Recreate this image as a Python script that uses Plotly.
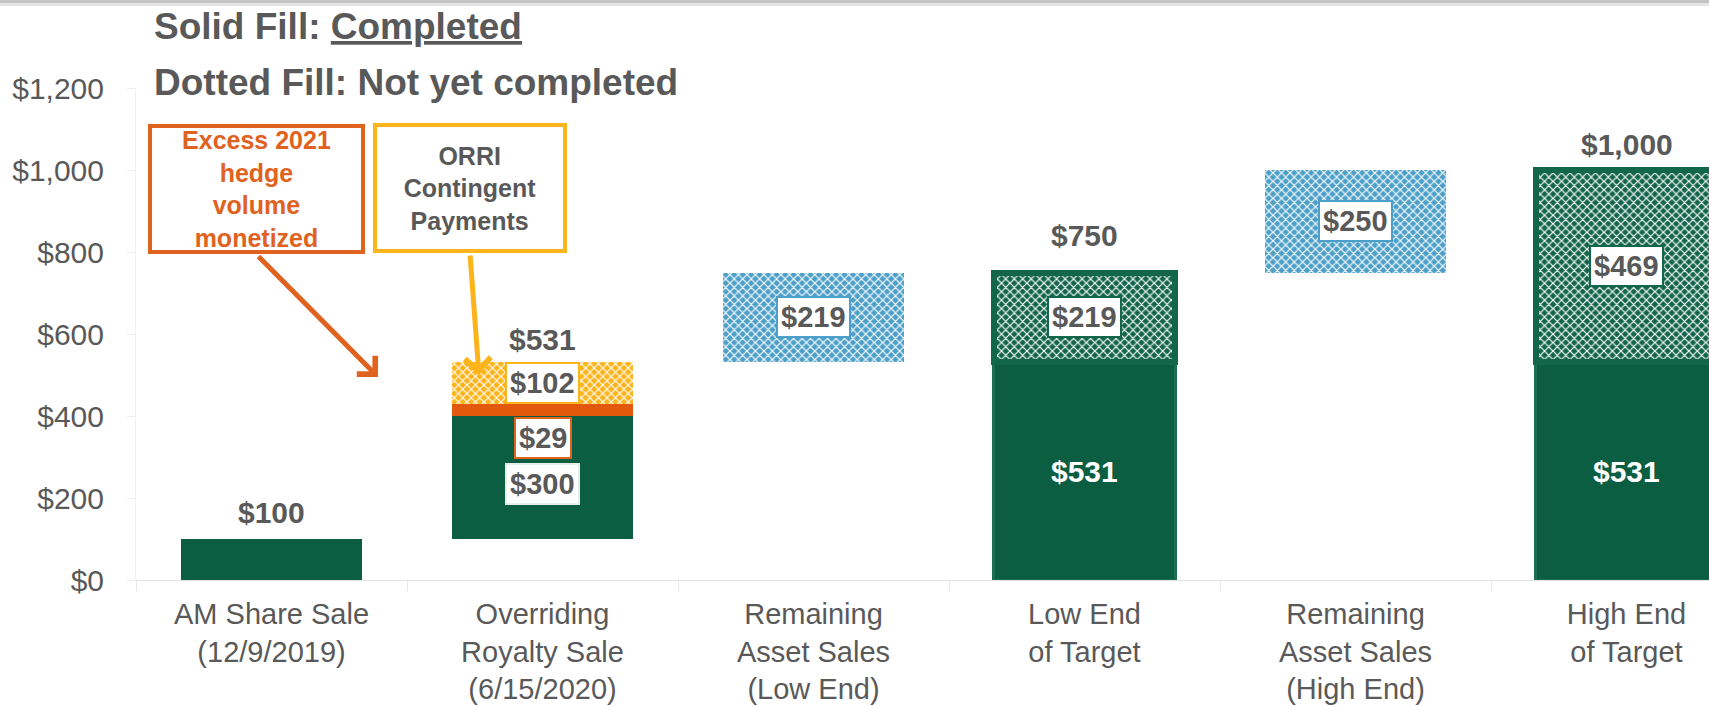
import plotly.graph_objects as go

# ---------------- data ----------------
categories = ["AM Share Sale<br>(12/9/2019)",
              "Overriding<br>Royalty Sale<br>(6/15/2020)",
              "Remaining<br>Asset Sales<br>(Low End)",
              "Low End<br>of Target",
              "Remaining<br>Asset Sales<br>(High End)",
              "High End<br>of Target"]
float_base = [0, 100, 531, 0, 750, 0]          # invisible offset
completed = [100, 300, 0, 531, 0, 531]         # solid green
hedge = [0, 29, 0, 0, 0, 0]                    # excess 2021 hedge (orange)
orri = [0, 102, 0, 0, 0, 0]                    # ORRI contingent (yellow dotted)
remaining = [0, 0, 219, 0, 250, 0]             # remaining asset sales (blue dotted)
target_pending = [0, 0, 0, 219, 0, 469]        # not yet completed part of target
totals = [100, 531, None, 750, None, 1000]
y_ticks = [0, 200, 400, 600, 800, 1000, 1200]
y_tick_text = ["$" + format(v, ",") for v in y_ticks]

# ---------------- style ----------------
W, H = 1709, 706
L, R, T, B = 136, 0, 88, 126
FONT = "Liberation Sans, Arial, sans-serif"
GRAY = "#595959"
GREEN = "#0B5E41"
GREEN_DOT = "#12654A"
BLUE = "#4C9FC8"
YELLOW = "#FDB41A"
ORANGE = "#E2590E"
ORANGE_TXT = "#E0621F"
X_RANGE_END = -0.5 + (W - L - R) / 271.0   # category pitch ~271 px, last bar clipped
top_label_shift = [27, 23, 0, 37, 0, 26]


def nz(vals):
    return [v if v else None for v in vals]


def px_x(px):
    return (px - L) / (W - L - R)


def px_y(py):
    return (H - B - py) / (H - T - B)


def dotted(color):
    return dict(shape="x", fgcolor="white", bgcolor=color, size=6, solidity=0.35,
                fillmode="replace")


fig = go.Figure()
common = dict(x=categories, width=0.67, hoverinfo="skip", showlegend=False)
fig.add_bar(y=float_base, marker=dict(color="rgba(0,0,0,0)", line=dict(width=0)), **common)
fig.add_bar(y=nz(completed),
            marker=dict(color=GREEN,
                        line=dict(color="#1C6D51", width=[0, 0, 0, 3, 0, 3])),
            **common)
fig.add_bar(y=nz(hedge), marker=dict(color=ORANGE, line=dict(width=0)), **common)
fig.add_bar(y=nz(orri),
            marker=dict(color=YELLOW, line=dict(width=0), pattern=dotted(YELLOW)),
            **common)
fig.add_bar(y=nz(remaining),
            marker=dict(color=BLUE, line=dict(width=0), pattern=dotted(BLUE)),
            **common)
fig.add_bar(y=nz(target_pending),
            marker=dict(color=GREEN_DOT, line=dict(color="#12664A", width=6),
                        pattern=dotted(GREEN_DOT)),
            **common)

ann = []

# top total labels
for i, tot in enumerate(totals):
    if tot is None:
        continue
    ann.append(dict(x=categories[i], y=tot, xref="x", yref="y", text=f"<b>${tot:,}</b>",
                    showarrow=False, xanchor="center", yanchor="middle",
                    yshift=top_label_shift[i],
                    font=dict(size=30, color=GRAY, family=FONT)))


def boxed(i, yval, value, border, anchor="middle", shift=0):
    return dict(x=categories[i], y=yval, xref="x", yref="y", text=f"<b>${value:,}</b>",
                showarrow=False, xanchor="center", yanchor=anchor, yshift=shift,
                bgcolor="white", bordercolor=border, borderwidth=2, borderpad=3,
                font=dict(size=29, color=GRAY, family=FONT))


# segment labels
for i in range(len(categories)):
    base = float_base[i]
    if completed[i] and i in (3, 5):
        ann.append(dict(x=categories[i], y=base + completed[i] / 2, xref="x", yref="y",
                        text=f"<b>${completed[i]:,}</b>", showarrow=False,
                        xanchor="center", yanchor="middle",
                        font=dict(size=30, color="white", family=FONT)))
    if completed[i] and hedge[i]:
        ann.append(boxed(i, base + completed[i] / 2, completed[i], "#E6EEEA", shift=-6))
    b2 = base + completed[i]
    if hedge[i]:
        ann.append(boxed(i, b2, hedge[i], ORANGE_TXT, anchor="top", shift=-1))
    b3 = b2 + hedge[i]
    if orri[i]:
        ann.append(boxed(i, b3 + orri[i] / 2, orri[i], YELLOW))
    b4 = b3 + orri[i]
    if remaining[i]:
        ann.append(boxed(i, b4 + remaining[i] / 2, remaining[i], BLUE))
    b5 = b4 + remaining[i]
    if target_pending[i]:
        ann.append(boxed(i, b5 + target_pending[i] / 2, target_pending[i], "#12664A"))

# headline legend text
ann.append(dict(x=px_x(152), y=px_y(27), xref="paper", yref="paper", xanchor="left",
                yanchor="middle", showarrow=False,
                text="<b>Solid Fill: <u>Completed</u></b>",
                font=dict(size=37, color=GRAY, family=FONT)))
ann.append(dict(x=px_x(152), y=px_y(83), xref="paper", yref="paper", xanchor="left",
                yanchor="middle", showarrow=False,
                text="<b>Dotted Fill: Not yet completed</b>",
                font=dict(size=37, color=GRAY, family=FONT)))

# callout boxes
ann.append(dict(x=px_x(256.5), y=px_y(189), xref="paper", yref="paper", showarrow=False,
                xanchor="center", yanchor="middle",
                text="<b>Excess 2021<br>hedge<br>volume<br>monetized</b>",
                width=209, height=122, bgcolor="white", bordercolor=ORANGE_TXT,
                borderwidth=4, borderpad=0,
                font=dict(size=25, color=ORANGE_TXT, family=FONT)))
ann.append(dict(x=px_x(470), y=px_y(188), xref="paper", yref="paper", showarrow=False,
                xanchor="center", yanchor="middle",
                text="<b>ORRI<br>Contingent<br>Payments</b>",
                width=186, height=122, bgcolor="white", bordercolor=YELLOW,
                borderwidth=4, borderpad=0,
                font=dict(size=25, color=GRAY, family=FONT)))
# arrows
ann.append(dict(x=px_x(378), y=px_y(377), xref="paper", yref="paper", text="",
                showarrow=True, ax=257 - 378, ay=255 - 377, arrowhead=4, arrowsize=1,
                arrowwidth=5, arrowcolor=ORANGE_TXT, standoff=0))
ann.append(dict(x=px_x(479), y=px_y(375), xref="paper", yref="paper", text="",
                showarrow=True, ax=470 - 479, ay=254 - 375, arrowhead=4, arrowsize=1,
                arrowwidth=5, arrowcolor=YELLOW, standoff=0))

shapes = [
    dict(type="rect", xref="paper", yref="paper", x0=px_x(0), x1=px_x(W),
         y0=px_y(0), y1=px_y(3), fillcolor="#C4C4C4", line=dict(width=0), layer="above"),
    dict(type="rect", xref="paper", yref="paper", x0=px_x(0), x1=px_x(W),
         y0=px_y(3), y1=px_y(6), fillcolor="#E4E4E4", line=dict(width=0), layer="above"),
]

fig.update_layout(
    width=W, height=H, barmode="stack",
    margin=dict(l=L, r=R, t=T, b=B, pad=0, autoexpand=False),
    plot_bgcolor="white", paper_bgcolor="white",
    font=dict(family=FONT, color=GRAY),
    annotations=ann, shapes=shapes,
    xaxis=dict(type="category", range=[-0.5, X_RANGE_END], showgrid=False,
               showline=True, linecolor="#E2E2E2", linewidth=1,
               ticks="outside", tickson="boundaries", ticklen=10, tickcolor="#E8E8E8",
               tickfont=dict(size=29, color=GRAY, family=FONT),
               ticklabelstandoff=8, automargin=False, fixedrange=True),
    yaxis=dict(range=[0, 1200], tickvals=y_ticks, ticktext=y_tick_text,
               showgrid=False, zeroline=False, showline=True, linecolor="#F0F0F0",
               ticks="outside", ticklen=8, tickcolor="#EDEDED",
               tickfont=dict(size=30, color=GRAY, family=FONT),
               ticklabelstandoff=17, automargin=False, fixedrange=True),
)

fig.write_html("out.html", config={"displayModeBar": False},
               post_script="document.body.style.margin='0';")
